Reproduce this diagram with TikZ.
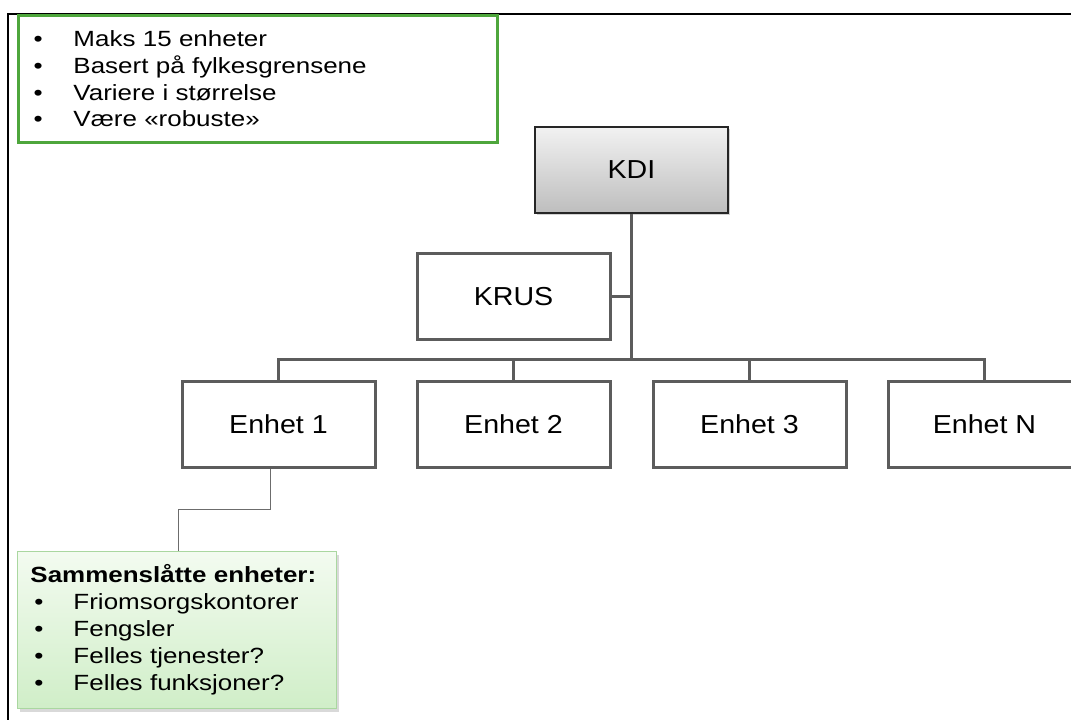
\documentclass[tikz,border=0pt]{standalone}
\usepackage{fontspec}
\setmainfont{Liberation Sans}[FakeStretch=1.18]
\newfontfamily\boxfont{Liberation Sans}[FakeStretch=1.1]
\usepackage{xcolor}
\usepackage{tikz}
\usetikzlibrary{shadows,positioning}

\definecolor{boxgray}{RGB}{92,92,92}
\definecolor{kdilight}{RGB}{242,242,242}
\definecolor{kdidark}{RGB}{190,190,190}
\definecolor{listgreen}{RGB}{78,166,60}
\definecolor{notelight}{RGB}{243,251,240}
\definecolor{notedark}{RGB}{208,238,200}
\definecolor{noteedge}{RGB}{170,215,160}

\begin{document}
\begin{tikzpicture}[
    x=1pt, y=-1pt,
    orgbox/.style={draw=boxgray, line width=3pt, fill=white, inner sep=0pt,
        minimum width=193pt, minimum height=86pt,
        font=\boxfont\fontsize{26}{30}\selectfont},
    topbox/.style={orgbox, draw=black!85, line width=2pt,
        top color=kdilight, bottom color=kdidark,
        drop shadow={shadow xshift=2pt, shadow yshift=-2pt, opacity=0.35}},
    listbox/.style={draw=listgreen, line width=3pt, inner xsep=15pt,
        minimum width=479pt, minimum height=127pt, text width=449pt,
        align=left, font=\fontsize{22}{26.7}\selectfont},
    notebox/.style={draw=noteedge, line width=1pt, inner xsep=13pt,
        top color=notelight, bottom color=notedark,
        minimum width=319pt, minimum height=157pt, text width=293pt,
        align=left, font=\fontsize{22}{26.9}\selectfont,
        drop shadow={shadow xshift=2pt, shadow yshift=-3pt, opacity=0.3}},
    link/.style={draw=boxgray, line width=3pt},
    thinlink/.style={draw=boxgray!90, line width=1.5pt},
]
\clip (0,0) rectangle (1071,720);

% Outer frame
\draw[line width=2.5pt, black] (1080,14) -- (8,14) -- (8,730);

% Goals
\node[listbox] (goals) at (258,79) {%
    \makebox[40pt][l]{\textbullet}Maks 15 enheter\\
    \makebox[40pt][l]{\textbullet}Basert på fylkesgrensene\\
    \makebox[40pt][l]{\textbullet}Variere i størrelse\\
    \makebox[40pt][l]{\textbullet}Være «robuste»};

% Hierarchy
\node[topbox] (kdi) at (631.5,169.5) {KDI};
\node[orgbox] (krus) at (513.5,296.5) {KRUS};
\node[orgbox] (e1) at (278.5,424) {Enhet 1};
\node[orgbox] (e2) at (513.5,424) {Enhet 2};
\node[orgbox] (e3) at (749.5,424) {Enhet 3};
\node[orgbox] (en) at (984.5,424) {Enhet N};
\coordinate (bus) at (631,359);

\draw[link] (kdi.south) -- (kdi.south |- bus);
\draw[link] (krus.east) -- (krus.east -| kdi.south);
\draw[link] (e1.north) |- (en.north |- bus) -- (en.north);
\foreach \n in {e2,e3}
    \draw[link] (\n.north) -- (\n.north |- bus);

% Merged units
\node[notebox] (merged) at (177,630) {%
    \textbf{Sammenslåtte enheter:}\\
    \hspace*{4pt}\makebox[39pt][l]{\textbullet}Friomsorgskontorer\\
    \hspace*{4pt}\makebox[39pt][l]{\textbullet}Fengsler\\
    \hspace*{4pt}\makebox[39pt][l]{\textbullet}Felles tjenester?\\
    \hspace*{4pt}\makebox[39pt][l]{\textbullet}Felles funksjoner?};

\draw[thinlink] ([xshift=-8pt]e1.south) -- ++(0,41) -| ([xshift=161.5pt]merged.north west);

\end{tikzpicture}
\end{document}
